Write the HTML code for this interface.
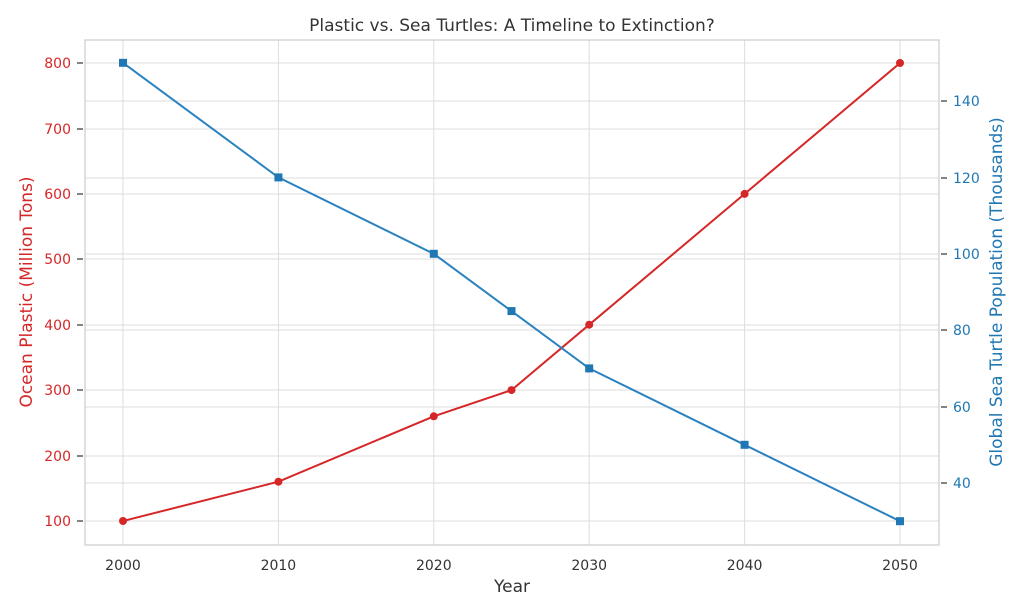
<!DOCTYPE html>
<html><head><meta charset="utf-8"><style>body{margin:0;background:#fff}svg{display:block}text{font-family:"DejaVu Sans","Liberation Sans",sans-serif}</style></head><body>
<svg width="1024" height="614" xmlns="http://www.w3.org/2000/svg">
<rect width="1024" height="614" fill="#fff"/>
<g stroke="#dddddd" stroke-width="1">
<line x1="123" y1="40" x2="123" y2="545"/><line x1="278.4" y1="40" x2="278.4" y2="545"/><line x1="433.8" y1="40" x2="433.8" y2="545"/><line x1="589.2" y1="40" x2="589.2" y2="545"/><line x1="744.6" y1="40" x2="744.6" y2="545"/><line x1="900" y1="40" x2="900" y2="545"/>
<line x1="85" y1="521" x2="939" y2="521"/><line x1="85" y1="456" x2="939" y2="456"/><line x1="85" y1="390" x2="939" y2="390"/><line x1="85" y1="325" x2="939" y2="325"/><line x1="85" y1="259" x2="939" y2="259"/><line x1="85" y1="194" x2="939" y2="194"/><line x1="85" y1="129" x2="939" y2="129"/><line x1="85" y1="63" x2="939" y2="63"/>
<line x1="85" y1="483" x2="939" y2="483"/><line x1="85" y1="407" x2="939" y2="407"/><line x1="85" y1="330" x2="939" y2="330"/><line x1="85" y1="254" x2="939" y2="254"/><line x1="85" y1="178" x2="939" y2="178"/><line x1="85" y1="101" x2="939" y2="101"/>
</g>
<rect x="85" y="40" width="854" height="505" fill="none" stroke="#cccccc" stroke-width="1.2"/>
<g stroke="#333" stroke-width="1.2">
<line x1="77" y1="521" x2="83" y2="521"/><line x1="77" y1="456" x2="83" y2="456"/><line x1="77" y1="390" x2="83" y2="390"/><line x1="77" y1="325" x2="83" y2="325"/><line x1="77" y1="259" x2="83" y2="259"/><line x1="77" y1="194" x2="83" y2="194"/><line x1="77" y1="129" x2="83" y2="129"/><line x1="77" y1="63" x2="83" y2="63"/>
<line x1="941" y1="483" x2="947" y2="483"/><line x1="941" y1="407" x2="947" y2="407"/><line x1="941" y1="330" x2="947" y2="330"/><line x1="941" y1="254" x2="947" y2="254"/><line x1="941" y1="178" x2="947" y2="178"/><line x1="941" y1="101" x2="947" y2="101"/>
</g>
<polyline fill="none" stroke="#d62728" stroke-width="2" points="123,521 278.4,481.7 433.8,416.3 511.5,390.1 589.2,324.7 744.6,193.9 900,63"/>
<g fill="#d62728"><circle cx="123" cy="521" r="4"/><circle cx="278.4" cy="481.7" r="4"/><circle cx="433.8" cy="416.3" r="4"/><circle cx="511.5" cy="390.1" r="4"/><circle cx="589.2" cy="324.7" r="4"/><circle cx="744.6" cy="193.9" r="4"/><circle cx="900" cy="63" r="4"/></g>
<polyline fill="none" stroke="#2a82c0" stroke-width="2" points="123,62.8 278.4,177.4 433.8,253.8 511.5,311.1 589.2,368.4 744.6,444.8 900,521.2"/>
<g fill="#1f77b4"><rect x="119" y="58.8" width="8" height="8"/><rect x="274.4" y="173.4" width="8" height="8"/><rect x="429.8" y="249.8" width="8" height="8"/><rect x="507.5" y="307.1" width="8" height="8"/><rect x="585.2" y="364.4" width="8" height="8"/><rect x="740.6" y="440.8" width="8" height="8"/><rect x="896" y="517.2" width="8" height="8"/></g>
<g font-size="14" fill="#d62728" text-anchor="end">
<text x="71" y="526">100</text><text x="71" y="461">200</text><text x="71" y="395">300</text><text x="71" y="330">400</text><text x="71" y="264">500</text><text x="71" y="199">600</text><text x="71" y="134">700</text><text x="71" y="68">800</text></g>
<g font-size="14" fill="#1f77b4">
<text x="953" y="488">40</text><text x="953" y="412">60</text><text x="953" y="335">80</text><text x="953" y="259">100</text><text x="953" y="183">120</text><text x="953" y="106">140</text></g>
<g font-size="14" fill="#333" text-anchor="middle">
<text x="123" y="570">2000</text><text x="278.4" y="570">2010</text><text x="433.8" y="570">2020</text><text x="589.2" y="570">2030</text><text x="744.6" y="570">2040</text><text x="900" y="570">2050</text></g>
<text x="512" y="592" font-size="17" fill="#333" text-anchor="middle">Year</text>
<text x="512" y="31" font-size="17" fill="#333" text-anchor="middle">Plastic vs. Sea Turtles: A Timeline to Extinction?</text>
<text transform="translate(32,292) rotate(-90)" font-size="17" fill="#d62728" text-anchor="middle">Ocean Plastic (Million Tons)</text>
<text transform="translate(1002,292) rotate(-90)" font-size="17" fill="#1f77b4" text-anchor="middle">Global Sea Turtle Population (Thousands)</text>
</svg>
</body></html>
